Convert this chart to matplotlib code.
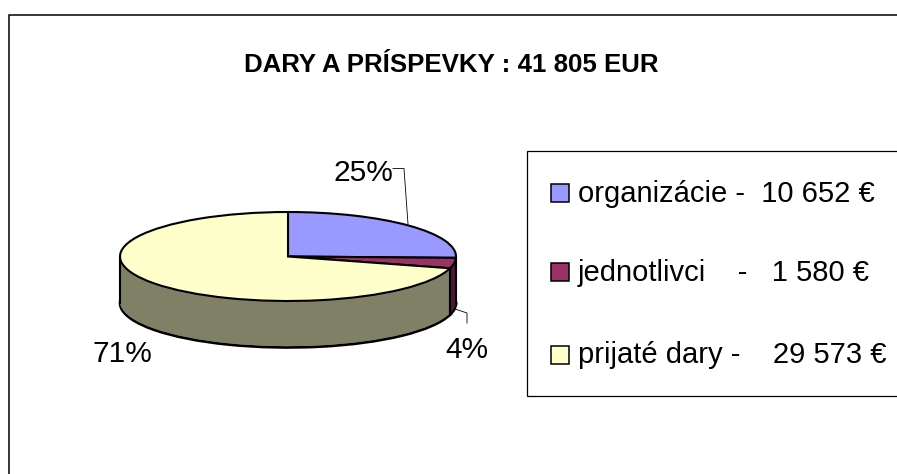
import numpy as np
import matplotlib
matplotlib.use('Agg')
import matplotlib.pyplot as plt
from matplotlib.patches import Rectangle

plt.rcParams['font.family'] = ['Liberation Sans', 'DejaVu Sans']

W, H = 897, 474

title = 'DARY A PRÍSPEVKY : 41 805 EUR'
values = [10652, 1580, 29573]
labels = ['organizácie -  10 652 €', 'jednotlivci    -   1 580 €', 'prijaté dary -    29 573 €']
percent_labels = ['25%', '4%', '71%']
top_colors = ['#9999FF', '#993366', '#FFFFCC']
side_colors = ['#4C4C80', '#4C1933', '#808066']


def px_axes(fig, left, top, right, bottom):
    return fig.add_axes([left / W, 1 - bottom / H, (right - left) / W, (bottom - top) / H])


fig = plt.figure(figsize=(W / 100, H / 100), dpi=100, facecolor='white')

# overlay in pixel coordinates for frame, legend and labels
bg = fig.add_axes([0, 0, 1, 1])
bg.set_xlim(0, W)
bg.set_ylim(H, 0)
bg.axis('off')

bg.plot([8.5, 8.5, W], [H, 14.5, 14.5], color='black', lw=1.1, solid_joinstyle='miter')
bg.text(451.5, 72, title, ha='center', va='baseline', fontsize=18.6, fontweight='bold')

# pie: 1 data unit = 168 px wide, 44.5 px high, so the circle gets squashed
ry = 44.5
depth = 46.5 / ry
ax = px_axes(fig, 120, 212, 456, 212 + 2 * ry + 46.5)
ax.patch.set_alpha(0)

wedges_kw = dict(startangle=90, counterclock=False, radius=1)
ax.pie(values, colors=side_colors, center=(0, -depth),
       wedgeprops=dict(edgecolor='black', linewidth=1.9), **wedges_kw)
for d in np.linspace(depth - 0.03, 0.02, 46):
    ax.pie(values, colors=side_colors, center=(0, -d),
           wedgeprops=dict(edgecolor='none', linewidth=0), **wedges_kw)
ax.pie(values, colors=top_colors, center=(0, 0),
       wedgeprops=dict(edgecolor='black', linewidth=1.5), **wedges_kw)

# vertical edges of the wall
angle = 90 - 360 * (values[0] + values[1]) / sum(values)
x_sep = np.cos(np.radians(angle))
y_sep = np.sin(np.radians(angle))
ax.plot([-1, -1], [0, -depth], color='black', lw=1.5)
ax.plot([x_sep, x_sep], [y_sep, y_sep - depth], color='black', lw=1.5)
ax.plot([1, 1], [0, -depth], color='black', lw=1.5)

ax.set_aspect('auto')
ax.set_xlim(-1, 1)
ax.set_ylim(-1 - depth, 1)
ax.axis('off')
for art in ax.patches + ax.lines:
    art.set_clip_on(False)

# percent labels and leader lines
bg.text(363, 181, percent_labels[0], ha='center', va='baseline', fontsize=21.5)
bg.text(467, 358, percent_labels[1], ha='center', va='baseline', fontsize=21.5)
bg.text(122, 362, percent_labels[2], ha='center', va='baseline', fontsize=21.5)
bg.plot([393, 404, 408], [168.5, 168.5, 224], color='black', lw=0.6)
bg.plot([455, 467, 467], [309, 313, 323], color='black', lw=0.6)

# legend
bg.plot([W, 526.5, 526.5, W], [151, 151, 396, 396], color='black', lw=0.9, solid_joinstyle='miter')
legend_base = [202, 281, 363]
legend_box = [183, 262, 345]
for label, color, y, top in zip(labels, top_colors, legend_base, legend_box):
    bg.add_patch(Rectangle((550.5, top + 0.5), 18, 18, facecolor=color, edgecolor='black', lw=1.1))
    bg.text(578, y, label, ha='left', va='baseline', fontsize=21)

fig.savefig('out.png', dpi=100)
